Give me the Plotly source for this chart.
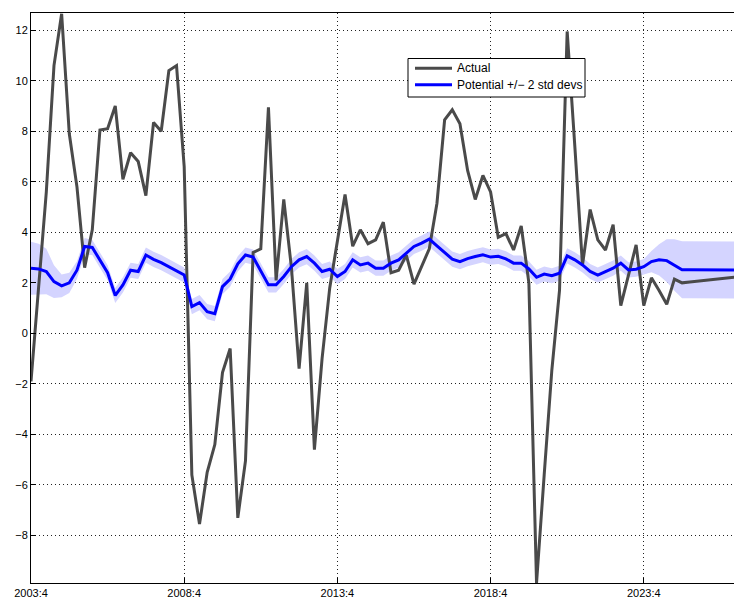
import plotly.graph_objects as go

# quarters since 2003:4
quarters = list(range(93))
tick_pos = [0, 20, 40, 60, 80]
tick_labels = ["2003:4", "2008:4", "2013:4", "2018:4", "2023:4"]
y_ticks = [-8, -6, -4, -2, 0, 2, 4, 6, 8, 10, 12]

actual = [-1.9, 1.9, 5.6, 10.6, 12.65, 7.9, 5.8, 2.6, 4.1, 8.05,
          8.1, 9.0, 6.1, 7.15, 6.8, 5.45, 8.35, 8.0, 10.4, 10.6,
          6.6, -5.6, -7.55, -5.5, -4.4, -1.55, -0.6, -7.3, -5.05, 3.2,
          3.35, 8.95, 2.1, 5.3, 2.6, -1.4, 2.0, -4.6, -1.0, 1.8,
          3.7, 5.5, 3.45, 4.1, 3.55, 3.7, 4.4, 2.4, 2.5, 3.1,
          1.95, 2.65, 3.35, 5.15, 8.45, 8.85, 8.3, 6.45, 5.3, 6.25,
          5.6, 3.8, 3.95, 3.3, 4.25, 2.0, -9.88, -5.6, -1.45, 1.7,
          11.95, 7.4, 2.7, 4.9, 3.7, 3.3, 4.3, 1.1, 2.3, 3.5,
          1.1, 2.2, 1.7, 1.15, 2.15, 2.0, 2.03, 2.06, 2.09, 2.12,
          2.16, 2.2, 2.23]

potential = [2.58, 2.55, 2.45, 2.05, 1.88, 2.0, 2.5, 3.44, 3.4, 2.9,
             2.4, 1.5, 1.92, 2.5, 2.45, 3.1, 2.93, 2.8, 2.64, 2.45,
             2.31, 1.06, 1.22, 0.86, 0.78, 1.85, 2.15, 2.75, 3.1, 3.02,
             2.45, 1.92, 1.92, 2.25, 2.64, 2.91, 3.04, 2.78, 2.45, 2.54,
             2.25, 2.45, 2.91, 2.71, 2.78, 2.58, 2.58, 2.78, 2.91, 3.17,
             3.44, 3.57, 3.73, 3.46, 3.2, 2.94, 2.84, 2.96, 3.04, 3.11,
             3.02, 3.05, 2.95, 2.78, 2.78, 2.55, 2.22, 2.35, 2.28, 2.38,
             3.07, 2.91, 2.71, 2.45, 2.31, 2.45, 2.58, 2.78, 2.51, 2.54,
             2.64, 2.84, 2.91, 2.88, 2.71, 2.52, 2.52, 2.52, 2.51, 2.51,
             2.51, 2.51, 2.51]

# two standard deviations (half width of the band)
two_std = [1.05, 1.0, 0.9, 0.65, 0.45, 0.4, 0.35, 0.33, 0.3, 0.3,
           0.3, 0.3, 0.3, 0.3, 0.3, 0.3, 0.3, 0.3, 0.3, 0.3,
           0.3, 0.3, 0.3, 0.3, 0.3, 0.3, 0.3, 0.3, 0.3, 0.3,
           0.3, 0.3, 0.3, 0.3, 0.3, 0.3, 0.3, 0.3, 0.3, 0.3,
           0.3, 0.3, 0.3, 0.3, 0.3, 0.3, 0.3, 0.3, 0.3, 0.3,
           0.3, 0.3, 0.3, 0.3, 0.3, 0.3, 0.3, 0.3, 0.3, 0.3,
           0.3, 0.3, 0.3, 0.3, 0.3, 0.3, 0.3, 0.3, 0.3, 0.3,
           0.3, 0.3, 0.3, 0.3, 0.3, 0.3, 0.3, 0.3, 0.3, 0.3,
           0.3, 0.42, 0.62, 0.85, 1.02, 1.13, 1.13, 1.13, 1.13, 1.13,
           1.13, 1.13, 1.13]

series_names = ["Actual", "Potential +/\u2212 2 std devs"]
series_colors = ["#4a4a4a", "#0000ff"]

upper = [p + s for p, s in zip(potential, two_std)]
lower = [p - s for p, s in zip(potential, two_std)]

FONT = "Liberation Sans, Arial, Helvetica, sans-serif"
W, H = 734, 598
ML, MR, MT, MB = 31, 0, 13, 15
PW, PH = W - ML - MR, H - MT - MB


def px_to_paper(px, py):
    return (px - ML) / PW, (H - MB - py) / PH


fig = go.Figure()
fig.add_trace(go.Scatter(x=quarters, y=lower, mode="lines", line=dict(width=0),
                         showlegend=False, hoverinfo="skip"))
fig.add_trace(go.Scatter(x=quarters, y=upper, mode="lines", line=dict(width=0),
                         fill="tonexty", fillcolor="rgb(212,212,255)",
                         showlegend=False, hoverinfo="skip"))
fig.add_trace(go.Scatter(x=quarters, y=actual, mode="lines", name=series_names[0],
                         line=dict(color=series_colors[0], width=3), showlegend=False))
fig.add_trace(go.Scatter(x=quarters, y=potential, mode="lines", name=series_names[1],
                         line=dict(color=series_colors[1], width=3), showlegend=False))

# legend box drawn by hand (MATLAB style)
bx0, by0 = px_to_paper(408, 97)
bx1, by1 = px_to_paper(585, 58.5)
shapes = [dict(type="rect", xref="paper", yref="paper", x0=bx0, y0=by0, x1=bx1, y1=by1,
               line=dict(color="black", width=1), fillcolor="white", layer="above")]
annotations = []
for i, (nm, col) in enumerate(zip(series_names, series_colors)):
    ypx = 68.3 + i * 16.5
    lx0, ly = px_to_paper(415, ypx)
    lx1, _ = px_to_paper(452, ypx)
    shapes.append(dict(type="line", xref="paper", yref="paper", x0=lx0, x1=lx1, y0=ly, y1=ly,
                       line=dict(color=col, width=3), layer="above"))
    tx, _ = px_to_paper(455, ypx)
    annotations.append(dict(x=tx, y=ly, xref="paper", yref="paper", text=nm,
                            showarrow=False, xanchor="left", yanchor="middle",
                            font=dict(size=12, color="black", family=FONT)))

fig.update_layout(
    width=W, height=H,
    margin=dict(l=ML, r=MR, t=MT, b=MB),
    paper_bgcolor="white", plot_bgcolor="white",
    font=dict(family=FONT, size=11, color="black"),
    showlegend=False,
    shapes=shapes, annotations=annotations,
)
fig.update_xaxes(range=[0, 91.78], tickvals=tick_pos, ticktext=tick_labels,
                 showgrid=True, gridcolor="#222", griddash="1px,3px", gridwidth=1,
                 showline=True, linecolor="black", linewidth=1, mirror=True,
                 ticks="inside", ticklen=5, tickcolor="black",
                 zeroline=False, automargin=False)
fig.update_yaxes(range=[-9.88, 12.68], tickvals=y_ticks,
                 showgrid=True, gridcolor="#222", griddash="1px,3px", gridwidth=1,
                 showline=True, linecolor="black", linewidth=1,
                 ticks="inside", ticklen=5, tickcolor="black",
                 zeroline=False, automargin=False)

fig.write_html("out.html",
               config={"displayModeBar": False},
               post_script="document.body.style.margin='0';document.body.style.overflow='hidden';")
